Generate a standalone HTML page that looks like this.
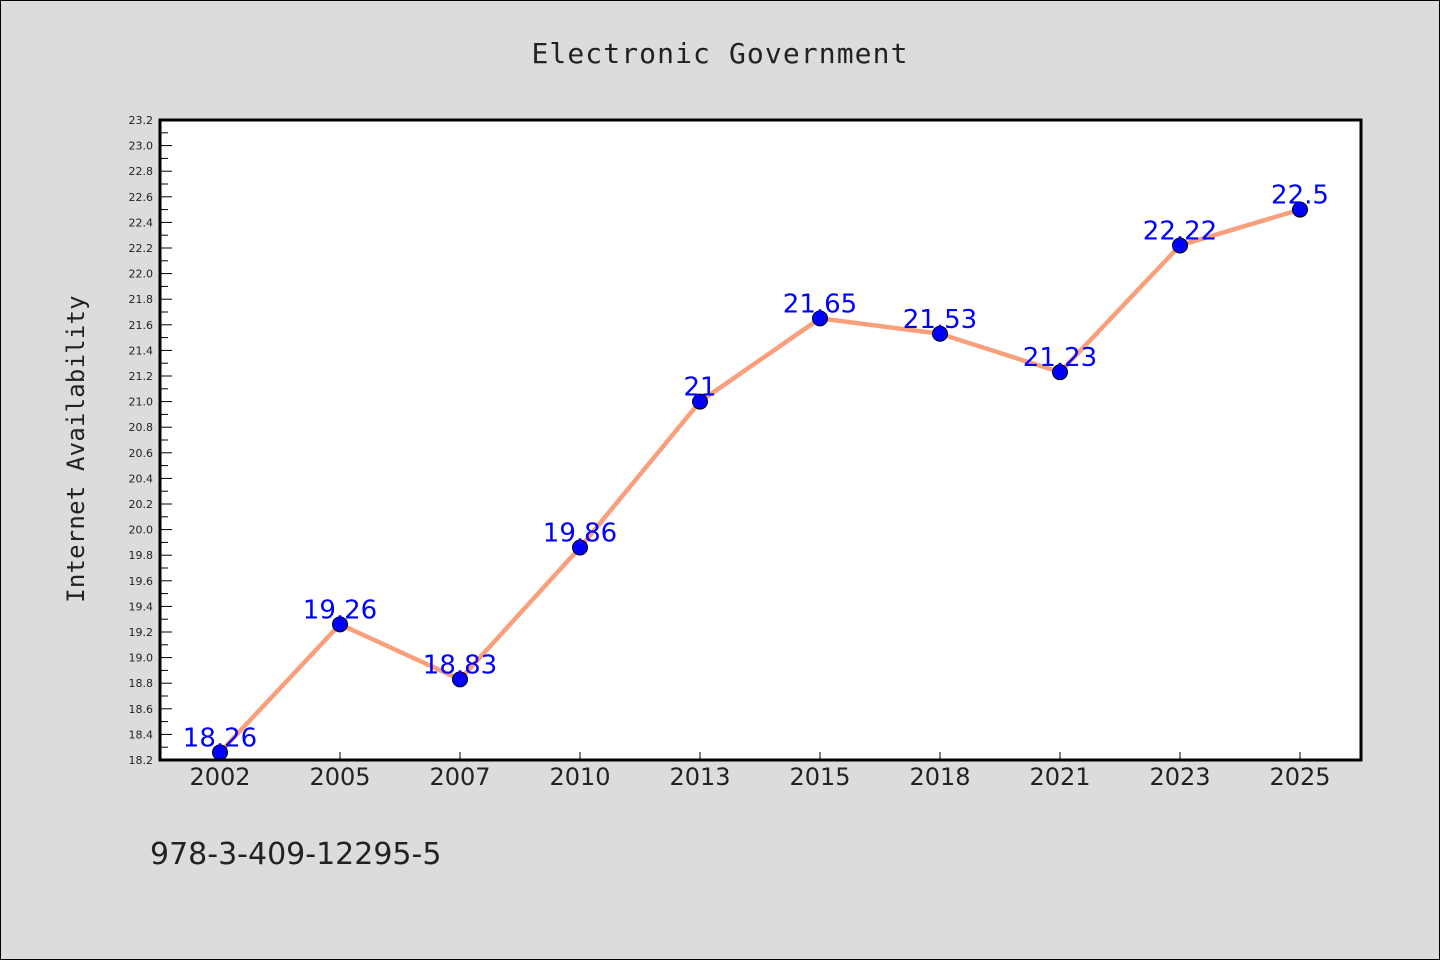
<!DOCTYPE html>
<html><head><meta charset="utf-8"><style>
body{margin:0;background:#dcdcdc;}
svg{display:block;font-family:"DejaVu Sans","Liberation Sans",sans-serif;}
</style></head><body>
<svg id="chart" width="1440" height="960">
<rect x="0.5" y="0.5" width="1439" height="959" fill="#dcdcdc" stroke="#000"/>
<text x="720" y="63" text-anchor="middle" font-size="28" letter-spacing="1.1" font-family="'DejaVu Sans Mono','Liberation Mono',monospace" fill="#222">Electronic Government</text>
<text transform="translate(84,449) rotate(-90)" text-anchor="middle" font-size="24" letter-spacing="0.2" font-family="'DejaVu Sans Mono','Liberation Mono',monospace" fill="#222">Internet Availability</text>
<text x="150" y="864" font-size="30" fill="#222">978-3-409-12295-5</text>
<rect x="160" y="120" width="1201" height="640" fill="#fff"/>
<g id="yaxis"></g><g id="xaxis"></g><g id="series"></g>
<rect x="160" y="120" width="1201" height="640" fill="none" stroke="#000" stroke-width="3"/>
</svg>
<script>
const categories=["2002","2005","2007","2010","2013","2015","2018","2021","2023","2025"];
const values=[18.26,19.26,18.83,19.86,21,21.65,21.53,21.23,22.22,22.5];
const labels=["18.26","19.26","18.83","19.86","21","21.65","21.53","21.23","22.22","22.5"];
const yMin=18.2,yMax=23.2;
const NS="http://www.w3.org/2000/svg";
const L=160,R=1361,T=120,B=760;
function y(v){return B-(v-yMin)/(yMax-yMin)*(B-T);}
function x(i){return 220+i*(1300-220)/(categories.length-1);}
function mk(t,a,p){const e=document.createElementNS(NS,t);for(const k in a)e.setAttribute(k,a[k]);p.appendChild(e);return e;}
const ya=document.getElementById('yaxis'),xa=document.getElementById('xaxis'),s=document.getElementById('series');
for(let k=0;k<=50;k++){const v=yMin+k*0.1,yy=y(v),major=k%2===0;
 const tk=mk('line',{x1:L,x2:L+(major?12:8),y1:yy,y2:yy,stroke:'#000','stroke-width':1},ya);
 
 
 if(major){const t=mk('text',{x:153,y:yy+4,'text-anchor':'end','font-size':11,fill:'#222'},ya);t.textContent=v.toFixed(1);
 
 }}
categories.forEach((c,i)=>{const xx=x(i);
 const tk=mk('line',{x1:xx,x2:xx,y1:B,y2:B-8,stroke:'#000','stroke-width':1},xa);
 
 
 const t=mk('text',{x:xx,y:785,'text-anchor':'middle','font-size':24,fill:'#222'},xa);t.textContent=c;
 
 });
const pl=mk('polyline',{points:values.map((v,i)=>x(i)+','+y(v)).join(' '),fill:'none',stroke:'#f99f7c','stroke-width':4.5,'stroke-linejoin':'round'},s);


values.forEach((v,i)=>{
 const c=mk('circle',{cx:x(i),cy:y(v),r:7.5,fill:'#0000ff',stroke:'#000','stroke-width':1},s);
 
 
 const t=mk('text',{x:x(i),y:y(v)-6,'text-anchor':'middle','font-size':26,fill:'#0000ff'},s);t.textContent=labels[i];
 
 });
</script>
</body></html>
